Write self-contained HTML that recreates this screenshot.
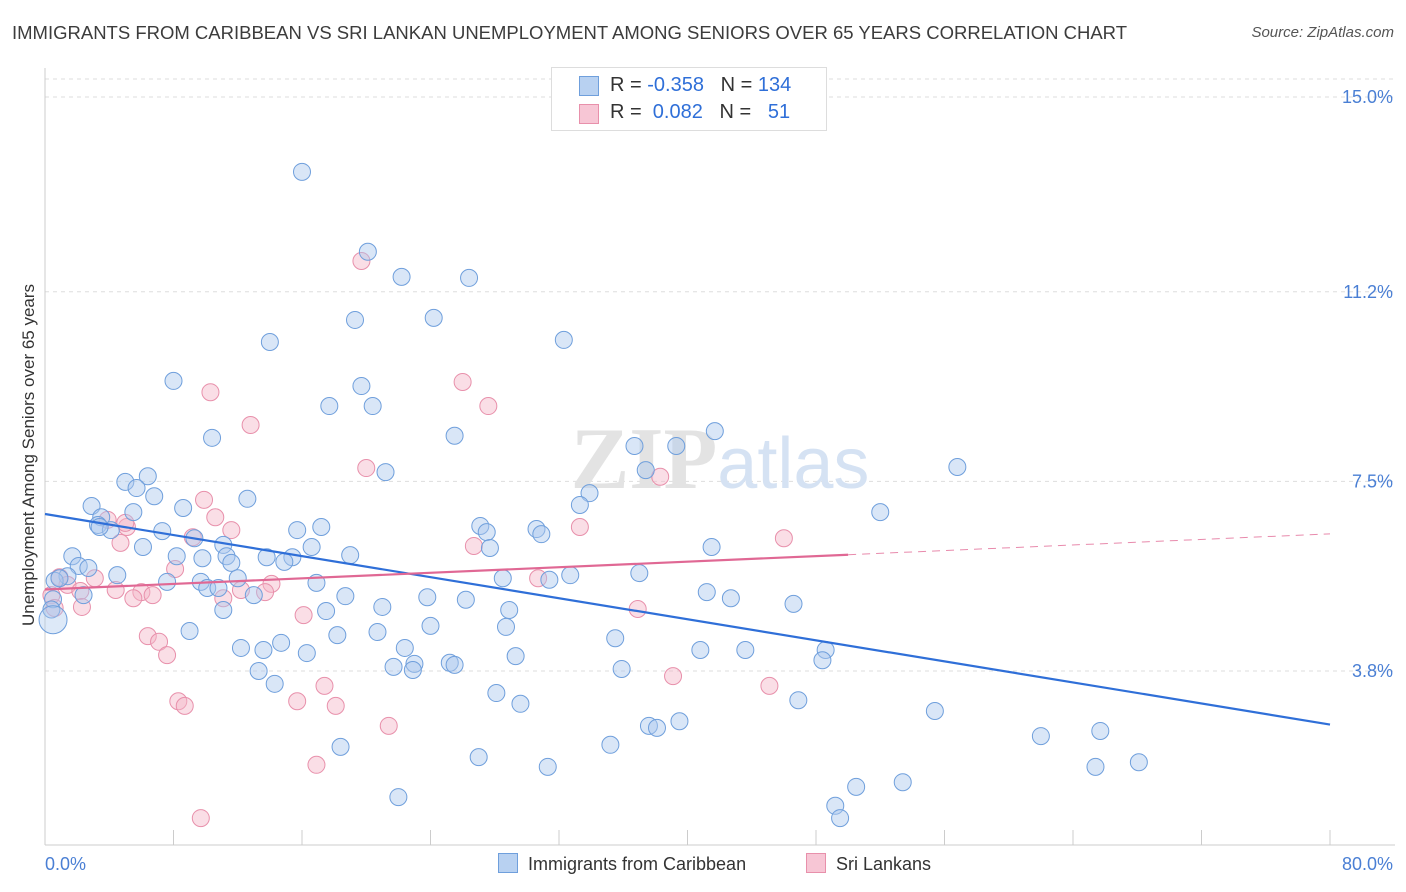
<!DOCTYPE html>
<html><head><meta charset="utf-8"><style>
body{margin:0;background:#fff;font-family:"Liberation Sans",sans-serif;}
#wrap{position:relative;width:1406px;height:892px;overflow:hidden;}
.t{position:absolute;white-space:nowrap;}
</style></head><body>
<div id="wrap">
<div class="t" style="left:12px;top:22px;font-size:18.5px;color:#3c3c3c;">IMMIGRANTS FROM CARIBBEAN VS SRI LANKAN UNEMPLOYMENT AMONG SENIORS OVER 65 YEARS CORRELATION CHART</div>
<div class="t" style="right:12px;top:24px;font-size:15px;color:#555;font-style:italic;">Source: ZipAtlas.com</div>
<svg id="svg" width="1406" height="892" style="position:absolute;left:0;top:0"></svg>
</div>
<script>
const blueX=[16.0,20.1,22.2,26.4,19.3,24.2,14.0,32.3,8.0,19.7,17.7,20.4,10.4,25.5,36.7,41.7,39.3,37.4,21.2,56.8,5.0,6.4,5.7,6.8,2.9,3.5,5.5,8.6,12.6,33.9,33.3,3.3,4.1,7.3,9.3,15.7,17.2,27.1,27.5,30.6,30.9,52.0,6.1,11.1,16.6,27.7,41.5,1.7,8.2,9.8,11.3,11.6,13.8,15.4,19.0,14.9,2.1,2.7,1.4,4.5,12.0,7.6,9.7,10.1,10.8,16.9,28.5,32.7,31.4,37.0,0.6,2.4,13.0,18.7,21.0,23.8,26.2,28.9,41.2,42.7,46.6,17.5,11.1,24.0,28.7,9.0,18.2,20.7,35.5,12.2,13.6,14.7,16.3,22.4,29.3,40.8,43.6,48.6,48.4,13.3,21.7,23.0,25.2,25.5,22.9,35.9,14.3,28.1,29.6,46.9,55.4,37.6,38.1,39.5,62.0,65.7,18.4,35.2,27.0,31.3,65.4,68.1,53.4,50.5,22.0,49.2,49.5,3.4,0.9,0.5,0.4];
const blueY=[13.54,11.98,11.49,11.47,10.65,10.69,10.22,10.26,9.46,9.36,8.97,8.97,8.35,8.39,8.19,8.48,8.19,7.72,7.68,7.78,7.49,7.60,7.37,7.21,7.02,6.8,6.9,6.98,7.16,7.27,7.04,6.65,6.55,6.53,6.39,6.55,6.61,6.63,6.51,6.57,6.47,6.9,6.22,6.26,6.22,6.2,6.22,6.04,6.04,6.0,6.04,5.91,6.02,6.02,6.06,5.93,5.85,5.81,5.65,5.67,5.61,5.54,5.54,5.42,5.42,5.52,5.61,5.67,5.58,5.71,5.56,5.28,5.28,5.26,5.05,5.24,5.19,4.99,5.34,5.22,5.11,4.97,4.99,4.68,4.66,4.58,4.5,4.56,4.44,4.25,4.21,4.35,4.15,4.25,4.09,4.21,4.21,4.21,4.01,3.8,3.88,3.94,3.96,3.92,3.82,3.84,3.55,3.37,3.16,3.23,3.02,2.73,2.69,2.82,2.53,2.63,2.32,2.36,2.12,1.93,1.93,2.02,1.63,1.54,1.34,1.17,0.93,6.61,5.61,5.2,5.0];
const pinkX=[19.7,10.3,26.0,12.8,27.6,20.0,38.3,9.9,10.6,3.9,5.1,11.6,9.2,33.3,46.0,4.7,26.7,5.0,0.9,3.1,1.4,0.4,2.2,8.1,14.1,4.4,6.0,6.7,5.5,12.2,13.7,11.1,30.7,16.1,36.9,6.4,7.1,7.6,8.3,8.7,15.7,17.4,18.1,39.1,45.1,21.4,16.9,9.7,2.3,0.6];
const pinkY=[11.8,9.24,9.44,8.6,8.97,7.76,7.59,7.14,6.8,6.75,6.61,6.55,6.41,6.61,6.39,6.3,6.24,6.69,5.63,5.61,5.48,5.28,5.36,5.79,5.5,5.38,5.34,5.28,5.22,5.38,5.34,5.22,5.61,4.89,5.01,4.48,4.37,4.11,3.21,3.12,3.21,3.51,3.12,3.7,3.51,2.73,1.97,0.93,5.05,5.03];
const yTicks=[3.8,7.5,11.2,15.0];
const yTickLabels=["3.8%","7.5%","11.2%","15.0%"];
const xTickVals=[0,8,16,24,32,40,48,56,64,72,80];

const svg=document.getElementById('svg');const NS='http://www.w3.org/2000/svg';
const X=v=>45+v*16.0625, Y=v=>97+(15-v)*51.25;
function mk(tag,attrs,parent){const e=document.createElementNS(NS,tag);for(const k in attrs)e.setAttribute(k,attrs[k]);(parent||svg).appendChild(e);return e;}
yTicks.forEach((v,i)=>{const l=mk('line',{x1:45,x2:1395,y1:Y(v),y2:Y(v),stroke:'#ddd','stroke-dasharray':'4,4'});


const t=mk('text',{x:1393,y:Y(v)+6,'text-anchor':'end','font-size':18,fill:'#4a7fd4','font-family':'Liberation Sans'});t.textContent=yTickLabels[i];

});
mk('line',{x1:45,x2:1395,y1:79,y2:79,stroke:'#ddd','stroke-dasharray':'4,4'});
const ax=mk('line',{x1:45,x2:45,y1:68,y2:845,stroke:'#ccc'});


const bx=mk('line',{x1:45,x2:1395,y1:845,y2:845,stroke:'#ccc'});


xTickVals.forEach(v=>{const l=mk('line',{x1:X(v),x2:X(v),y1:830,y2:845,stroke:'#ccc'});

});
[[0,'0.0%','start',45],[80,'80.0%','end',1393]].forEach(a=>{const t=mk('text',{x:a[3],y:870,'text-anchor':a[2],'font-size':18,fill:'#4a7fd4','font-family':'Liberation Sans'});t.textContent=a[1];

});
const yt=mk('text',{x:0,y:0,transform:'translate(34,455) rotate(-90)','text-anchor':'middle','font-size':17,fill:'#333','font-family':'Liberation Sans'});yt.textContent='Unemployment Among Seniors over 65 years';


const wm=mk('text',{x:720,y:488,'text-anchor':'middle','font-size':88,'font-family':'Liberation Serif',fill:'#e3e3e3'});


const t1=mk('tspan',{'font-weight':'bold'},wm);t1.textContent='ZIP';const t2=mk('tspan',{'font-family':'Liberation Sans',fill:'#d5e2f3','font-size':72},wm);t2.textContent='atlas';
function pts(xs,ys,fill,stroke,name){xs.forEach((v,i)=>{const c=mk('circle',{cx:X(v),cy:Y(ys[i]),r:8.5,fill:fill,'fill-opacity':0.45,stroke:stroke,'stroke-width':1});

});}
pts(pinkX,pinkY,'#f4b6c8','#e890ab','sri-lankan-point');
pts(blueX,blueY,'#aac8ee','#6f9fdc','caribbean-point');
const bc=mk('circle',{cx:X(0.5),cy:Y(4.8),r:14,fill:'#aac8ee','fill-opacity':0.4,stroke:'#6f9fdc'});


function fit(xs,ys){const n=xs.length;let mx=0,my=0;xs.forEach((v,i)=>{mx+=v;my+=ys[i];});mx/=n;my/=n;let sxy=0,sxx=0;xs.forEach((v,i)=>{sxy+=(v-mx)*(ys[i]-my);sxx+=(v-mx)*(v-mx);});const b=sxy/sxx;return [my-b*mx,b];}
const fb=fit(blueX,blueY),fp=fit(pinkX,pinkY);
const bl=mk('line',{x1:X(0),y1:Y(fb[0]),x2:X(80),y2:Y(fb[0]+fb[1]*80),stroke:'#2f6fd8','stroke-width':2.2});


const pm=50;
const pl=mk('line',{x1:X(0),y1:Y(fp[0]),x2:X(pm),y2:Y(fp[0]+fp[1]*pm),stroke:'#e06894','stroke-width':2.2});


const pd=mk('line',{x1:X(pm),y1:Y(fp[0]+fp[1]*pm),x2:X(80),y2:Y(fp[0]+fp[1]*80),stroke:'#e88aac','stroke-width':1,'stroke-dasharray':'8,6'});


</script>
<div class="t" style="left:551px;top:67px;width:274px;height:62px;border:1px solid #ddd;background:#fff;">
 <div style="position:absolute;left:27px;top:8px;width:18px;height:18px;background:#b8d1f1;border:1px solid #6f9fdc;"></div>
 <div style="position:absolute;left:27px;top:36px;width:18px;height:18px;background:#f7c6d5;border:1px solid #e890ab;"></div>
 <div style="position:absolute;left:58px;top:6px;font-size:20px;color:#333;">R = <span style="color:#2f6fd8">-0.358</span>&nbsp;&nbsp;&nbsp;N = <span style="color:#2f6fd8">134</span></div>
 <div style="position:absolute;left:58px;top:33px;font-size:20px;color:#333;">R = &nbsp;<span style="color:#2f6fd8">0.082</span>&nbsp;&nbsp;&nbsp;N = &nbsp;&nbsp;<span style="color:#2f6fd8">51</span></div>
</div>
<div class="t" style="left:498px;top:853px;font-size:18px;color:#333;"><span style="display:inline-block;width:18px;height:18px;background:#b8d1f1;border:1px solid #6f9fdc;vertical-align:-3px;margin-right:10px;"></span>Immigrants from Caribbean</div>
<div class="t" style="left:806px;top:853px;font-size:18px;color:#333;"><span style="display:inline-block;width:18px;height:18px;background:#f7c6d5;border:1px solid #e890ab;vertical-align:-3px;margin-right:10px;"></span>Sri Lankans</div>
</body></html>
